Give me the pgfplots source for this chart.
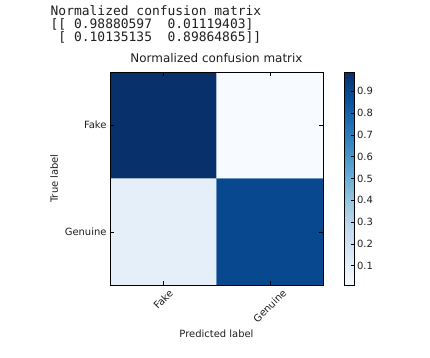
\documentclass[border=0pt]{standalone}
\usepackage{pgfplots}
\pgfplotsset{compat=1.18}
\usepackage{fontspec}
\setmainfont{DejaVu Sans}
\newfontfamily\monofont{DejaVu Sans Mono}
\definecolor{txt}{RGB}{30,30,30}
\begin{document}
\begin{tikzpicture}
\path[use as bounding box] (0bp,0bp) rectangle (430bp,358bp);
\node[anchor=base west, inner sep=0, font=\monofont\fontsize{13}{15}\selectfont, text=txt] at (50.5bp,342.5bp) {Normalized~confusion~matrix};
\node[anchor=base west, inner sep=0, font=\monofont\fontsize{13}{15}\selectfont, text=txt] at (50.5bp,329.5bp) {[[~0.98880597~~0.01119403]};
\node[anchor=base west, inner sep=0, font=\monofont\fontsize{13}{15}\selectfont, text=txt] at (50.5bp,316.8bp) {~[~0.10135135~~0.89864865]]};
\begin{axis}[
  at={(216.5bp,179.5bp)}, anchor=center,
  scale only axis, width=213bp, height=213bp,
  xmin=-0.5, xmax=1.5, ymin=-0.5, ymax=1.5, y dir=reverse,
  xtick={0,1}, ytick={0,1},
  xticklabels={\rotatebox{45}{Fake},\rotatebox{45}{Genuine}},
  yticklabels={Fake,Genuine},
  tick align=inside, major tick length=4bp,
  tick style={black, line width=0.5bp},
  axis line style={black, line width=0.9bp},
  axis on top,
  ticklabel style={font=\fontsize{10}{12}\selectfont, text=txt},
  xlabel={Predicted label}, ylabel={True label},
  label style={font=\fontsize{10}{12}\selectfont, text=txt},
  title={Normalized confusion matrix},
  title style={font=\fontsize{12}{14}\selectfont, text=txt, at={(0.5,1)}, anchor=base, yshift=4bp},
  colormap={blues}{rgb255=(247,251,255) rgb255=(222,235,247) rgb255=(198,219,239) rgb255=(158,202,225) rgb255=(107,174,214) rgb255=(66,146,198) rgb255=(33,113,181) rgb255=(8,81,156) rgb255=(8,48,107)},
  point meta min=0.01119403, point meta max=0.98880597,
  colorbar,
  colorbar style={
    at={(parent axis.north east)}, anchor=north west, xshift=13bp,
    scale only axis, width=10bp, height=213bp,
    ytick={0.1,0.2,0.3,0.4,0.5,0.6,0.7,0.8,0.9},
    ytick pos=right, yticklabel pos=right,
    tick align=inside, major tick length=4bp,
    tick style={black, line width=0.5bp},
    axis line style={black, line width=0.9bp},
    yticklabel style={font=\fontsize{10}{12}\selectfont, text=txt, /pgf/number format/fixed, /pgf/number format/precision=1, /pgf/number format/assume math mode=true, xshift=-1bp},
  },
]
\addplot[matrix plot*, mesh/cols=2, point meta=explicit] table[meta=c] {
x y c
0 0 0.98880597
1 0 0.01119403
0 1 0.10135135
1 1 0.89864865
};
\end{axis}
\end{tikzpicture}
\end{document}
